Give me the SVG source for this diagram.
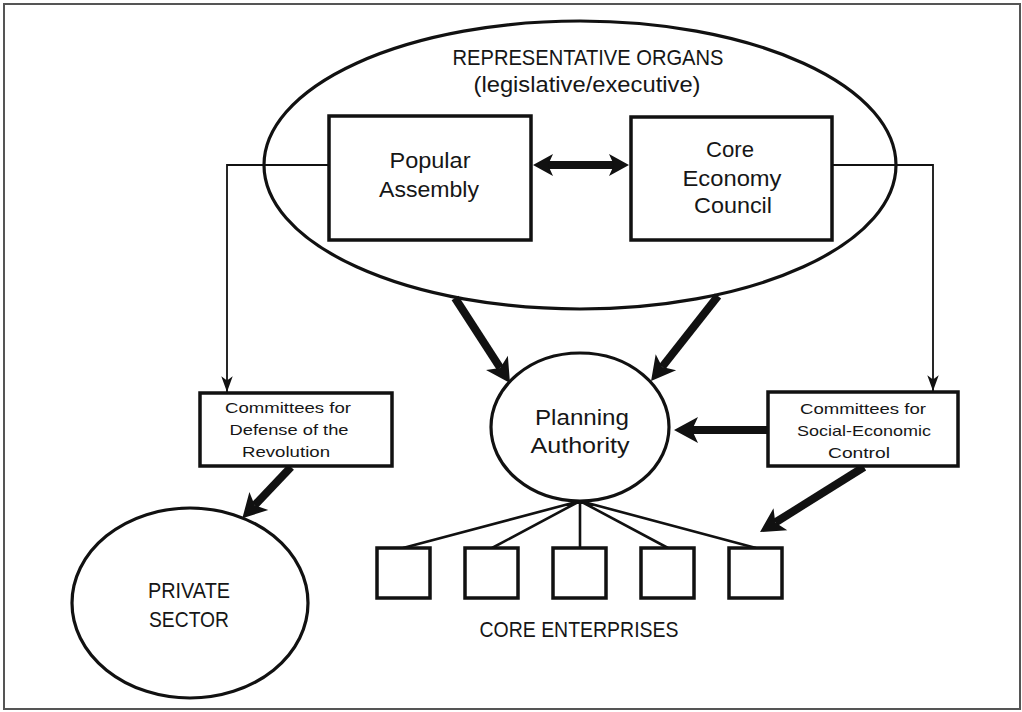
<svg xmlns="http://www.w3.org/2000/svg" width="1022" height="712" viewBox="0 0 1022 712">
<style>
text{font-family:"Liberation Sans",Arial,sans-serif;fill:#161616;text-anchor:middle}
.big{font-size:22px}
.sm{font-size:15px}
.box{fill:#fff;stroke:#111;stroke-width:3.5}
.ell{fill:#fff;stroke:#111;stroke-width:3.2}
.thin{fill:none;stroke:#111;stroke-width:1.8}
.thick{fill:none;stroke:#111;stroke-width:8}
.fan{fill:none;stroke:#111;stroke-width:2.6}
</style>
<defs>
<marker id="hb" markerUnits="userSpaceOnUse" markerWidth="40" markerHeight="40" viewBox="-10 -20 40 40" refX="0" refY="0" orient="auto-start-reverse" overflow="visible">
<path d="M18,0 L-6,-13 L0,0 L-6,13 Z" fill="#111"/>
</marker>
<marker id="hd" markerUnits="userSpaceOnUse" markerWidth="40" markerHeight="40" viewBox="-10 -20 40 40" refX="0" refY="0" orient="auto-start-reverse" overflow="visible">
<path d="M15,0 L-5,-11 L0,0 L-5,11 Z" fill="#111"/>
</marker>
<marker id="ht" markerUnits="userSpaceOnUse" markerWidth="20" markerHeight="20" viewBox="-12 -6 14 12" refX="0" refY="0" orient="auto" overflow="visible">
<path d="M0,0 L-11,-4 L-8,0 L-11,4 Z" fill="#111"/>
</marker>
</defs>
<rect x="4" y="4" width="1016" height="705" fill="#fff" stroke="#555" stroke-width="2"/>

<g id="representative-organs">
<ellipse class="ell" cx="580" cy="165" rx="316" ry="144"/>
<text class="big" x="588" y="65" textLength="271" lengthAdjust="spacingAndGlyphs">REPRESENTATIVE ORGANS</text>
<text class="big" x="587" y="92" textLength="227" lengthAdjust="spacingAndGlyphs">(legislative/executive)</text>
</g>

<g id="connectors">
<path class="thin" d="M329,165 H227 V392" marker-end="url(#ht)"/>
<path class="thin" d="M832,165 H933 V391" marker-end="url(#ht)"/>
<line class="thick" x1="548" y1="165" x2="614" y2="165" marker-start="url(#hd)" marker-end="url(#hd)"/>
<line class="thick" x1="455" y1="298" x2="500.2" y2="367.9" marker-end="url(#hb)"/>
<line class="thick" x1="718" y1="296" x2="662.2" y2="366.9" marker-end="url(#hb)"/>
<line class="thick" x1="768" y1="430" x2="692" y2="430" marker-end="url(#hb)"/>
<line class="thick" x1="864" y1="467" x2="775.3" y2="522.5" marker-end="url(#hb)"/>
<line class="thick" x1="291" y1="467" x2="254.7" y2="505.3" marker-end="url(#hb)"/>
<path class="fan" d="M580,501 L403,548 M580,501 L492,548 M580,501 L580,548 M580,501 L668,548 M580,501 L756,548"/>
</g>

<g id="popular-assembly">
<rect class="box" x="329" y="116" width="202" height="124"/>
<text class="big" x="430" y="168" textLength="81" lengthAdjust="spacingAndGlyphs">Popular</text>
<text class="big" x="429" y="197" textLength="100" lengthAdjust="spacingAndGlyphs">Assembly</text>
</g>

<g id="core-economy-council">
<rect class="box" x="631" y="117" width="201" height="123"/>
<text class="big" x="730" y="157" textLength="48" lengthAdjust="spacingAndGlyphs">Core</text>
<text class="big" x="732" y="186" textLength="99" lengthAdjust="spacingAndGlyphs">Economy</text>
<text class="big" x="733" y="213" textLength="78" lengthAdjust="spacingAndGlyphs">Council</text>
</g>

<g id="committees-defense">
<rect class="box" x="200" y="393" width="192" height="73"/>
<text class="sm" x="288" y="413" textLength="126" lengthAdjust="spacingAndGlyphs">Committees for</text>
<text class="sm" x="289" y="435" textLength="119" lengthAdjust="spacingAndGlyphs">Defense of the</text>
<text class="sm" x="286" y="457" textLength="88" lengthAdjust="spacingAndGlyphs">Revolution</text>
</g>

<g id="committees-control">
<rect class="box" x="768" y="392" width="190" height="74"/>
<text class="sm" x="863" y="414" textLength="126" lengthAdjust="spacingAndGlyphs">Committees for</text>
<text class="sm" x="864" y="436" textLength="134" lengthAdjust="spacingAndGlyphs">Social-Economic</text>
<text class="sm" x="859" y="458" textLength="62" lengthAdjust="spacingAndGlyphs">Control</text>
</g>

<g id="planning-authority">
<ellipse class="ell" cx="580" cy="427" rx="89" ry="74"/>
<text class="big" x="582" y="425" textLength="94" lengthAdjust="spacingAndGlyphs">Planning</text>
<text class="big" x="580" y="453" textLength="99" lengthAdjust="spacingAndGlyphs">Authority</text>
</g>

<g id="private-sector">
<ellipse class="ell" cx="190" cy="603" rx="118" ry="95"/>
<text class="big" x="189" y="598" textLength="82" lengthAdjust="spacingAndGlyphs">PRIVATE</text>
<text class="big" x="189" y="627" textLength="80" lengthAdjust="spacingAndGlyphs">SECTOR</text>
</g>

<g id="core-enterprises">
<rect class="box" x="377" y="548" width="53" height="50"/>
<rect class="box" x="465" y="548" width="53" height="50"/>
<rect class="box" x="553" y="548" width="53" height="50"/>
<rect class="box" x="641" y="548" width="53" height="50"/>
<rect class="box" x="729" y="548" width="53" height="50"/>
<text class="big" x="579" y="637" font-size="21" textLength="199" lengthAdjust="spacingAndGlyphs">CORE ENTERPRISES</text>
</g>
</svg>
